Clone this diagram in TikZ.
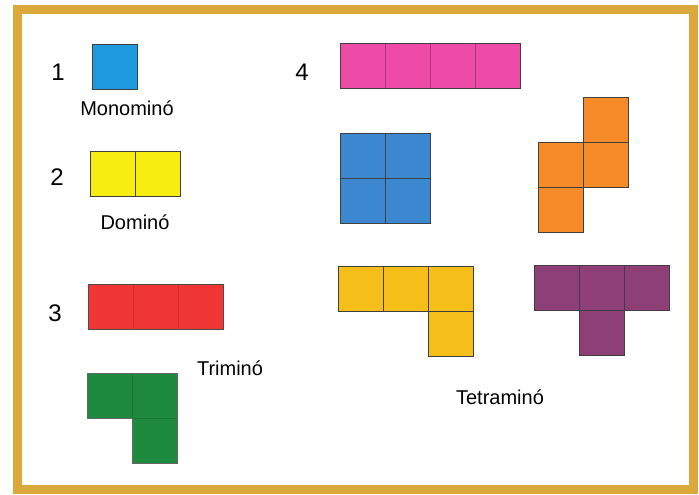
\documentclass[tikz,border=0pt]{standalone}
\usepackage{fontspec}
\setmainfont{Liberation Sans}
\usepackage{xcolor}
\definecolor{frame-gold}{HTML}{DBA83C}
\definecolor{mono-blue}{HTML}{1E9BE0}
\definecolor{dom-yellow}{HTML}{F7EE10}
\definecolor{tri-red}{HTML}{F03535}
\definecolor{tri-green}{HTML}{1E8A3E}
\definecolor{tet-pink}{HTML}{EE4AA8}
\definecolor{tet-blue}{HTML}{3B88D0}
\definecolor{tet-orange}{HTML}{F58A28}
\definecolor{tet-gold}{HTML}{F5BE18}
\definecolor{tet-purple}{HTML}{8E3F78}
\tikzset{
  cell/.style={draw=black!75, line width=0.6pt, minimum size=45pt,
    inner sep=0pt, outer sep=0pt},
  numlab/.style={font=\fontsize{24}{28}\selectfont},
  namelab/.style={font=\fontsize{20}{24}\selectfont}
}

\begin{document}
\begin{tikzpicture}[x=1pt, y=-1pt]
        % Diagram: polyominoes by number of cells, 1 to 4, in a gold frame.
        % Coordinates: (x, y) in px of a 699x495 sheet, y grows downwards,
        %   each cell 45px, node placed at the cell centre.
        \useasboundingbox (0,0) rectangle (699,495);
        \draw[frame-gold, line width=9pt, fill=white] (17,10) rectangle (693,489);
        % 1 cell
        \node[numlab] (n1) at (58,72) {1};
        \node[cell, fill=mono-blue] (mono) at (114.5,66.5) {};
        \node[namelab] (lmono) at (127,108) {Monominó};
        % 2 cells
        \node[numlab] (n2) at (57,177) {2};
        \foreach \i/\x in {1/112.5, 2/157.5} {
          \node[cell, fill=dom-yellow] (dom\i) at (\x,173.5) {};
        }
        \node[namelab] (ldom) at (135,222) {Dominó};
        % 3 cells, inner edges hardly show
        \node[numlab] (n3) at (55,313) {3};
        \foreach \i/\x in {1/110.5, 2/155.5, 3/200.5} {
          \node[cell, fill=tri-red, draw=tri-red!85!black] (triI\i) at (\x,306.5) {};
        }
        \draw[black!70, line width=0.6pt] (triI1.north west) rectangle (triI3.south east);
        \foreach \i/\x/\y in {1/109.5/395.5, 2/154.5/395.5, 3/154.5/440.5} {
          \node[cell, fill=tri-green, draw=tri-green!85!black] (triL\i) at (\x,\y) {};
        }
        \draw[black!60, line width=0.6pt] (triL1.north west) -- (triL2.north east)
          -- (triL3.south east) -- (triL3.south west) -- (triL3.north west)
          -- (triL1.south west) -- cycle;
        \node[namelab] (ltri) at (230,368) {Triminó};
        % 4 cells
        \node[numlab] (n4) at (302,72) {4};
        \foreach \i/\x in {1/362.5, 2/407.5, 3/452.5, 4/497.5} {
          \node[cell, fill=tet-pink, draw=tet-pink!70!black] (tetI\i) at (\x,65.5) {};
        }
        \draw[black!75, line width=0.6pt] (tetI1.north west) rectangle (tetI4.south east);
        \foreach \i/\x/\y in {1/362.5/155.5, 2/407.5/155.5,
            3/362.5/200.5, 4/407.5/200.5} {
          \node[cell, fill=tet-blue] (tetO\i) at (\x,\y) {};
        }
        \foreach \i/\x/\y in {1/560.5/164.5, 2/560.5/209.5,
            3/605.5/119.5, 4/605.5/164.5} {
          \node[cell, fill=tet-orange] (tetS\i) at (\x,\y) {};
        }
        \foreach \i/\x/\y in {1/360.5/289, 2/405.5/289,
            3/450.5/289, 4/450.5/334} {
          \node[cell, fill=tet-gold] (tetL\i) at (\x,\y) {};
        }
        \foreach \i/\x/\y in {1/556.5/287.5, 2/601.5/287.5,
            3/646.5/287.5, 4/601.5/332.5} {
          \node[cell, fill=tet-purple] (tetT\i) at (\x,\y) {};
        }
        \node[namelab] (ltet) at (500,397) {Tetraminó};
      \end{tikzpicture}
\end{document}
